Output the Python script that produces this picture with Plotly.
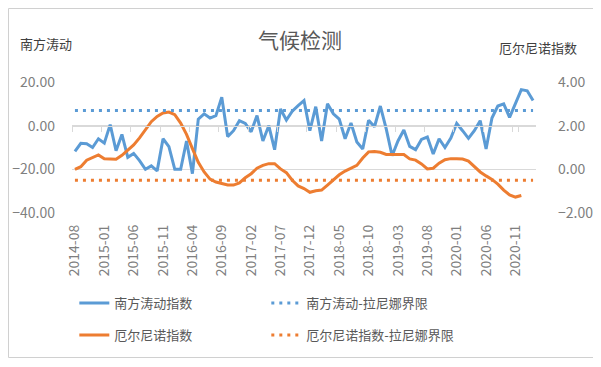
import pandas as pd
import plotly.graph_objects as go

# ---- data ----
months = [p.strftime("%Y-%m") for p in pd.period_range("2014-08", periods=79, freq="M")]

soi_index = [
    -11.8, -8.1, -8.3, -10.0, -6.0, -8.0, 0.5, -11.5, -4.0, -14.5,
    -12.7, -16.0, -20.0, -18.4, -20.7, -6.0, -9.6, -20.0, -20.0, -7.0,
    -22.0, 3.0, 5.4, 3.5, 4.6, 13.0, -5.0, -2.3, 2.3, 1.0,
    -2.8, 4.6, -7.0, 0.0, -11.0, 7.6, 2.6, 6.6, 9.2, 11.5,
    -2.3, 8.7, -7.0, 10.0, 5.4, 3.0, -6.0, 1.2, -7.5, -10.7,
    2.5, -0.5, 9.0, -1.5, -13.8, -7.0, -2.0, -9.5, -11.0, -6.3,
    -5.2, -13.0, -6.0, -10.0, -5.7, 1.0, -2.3, -5.8, -2.3, 2.3,
    -10.7, 3.5, 9.0, 10.0, 3.8, 10.5, 16.5, 16.0, 11.5,
]

oni_index = [
    0.00, 0.12, 0.42, 0.53, 0.66, 0.48, 0.46, 0.46, 0.64, 0.86,
    1.12, 1.44, 1.80, 2.18, 2.42, 2.58, 2.62, 2.50, 2.12, 1.60,
    0.95, 0.32, -0.12, -0.45, -0.58, -0.66, -0.72, -0.72, -0.62, -0.38,
    -0.20, 0.05, 0.18, 0.26, 0.26, 0.02, -0.15, -0.50, -0.76, -0.88,
    -1.05, -0.98, -0.95, -0.72, -0.50, -0.25, -0.08, 0.05, 0.18, 0.52,
    0.80, 0.82, 0.78, 0.68, 0.68, 0.68, 0.68, 0.48, 0.42, 0.25,
    0.02, 0.05, 0.28, 0.44, 0.49, 0.49, 0.47, 0.38, 0.12, -0.12,
    -0.30, -0.46, -0.68, -0.95, -1.17, -1.27, -1.20, None, None,
]

soi_lanina_limit = 7
oni_lanina_limit = -0.5

tick_labels = months[::5]

BLUE = "#5B9BD5"
ORANGE = "#ED7D31"
GRID = "#D9D9D9"
TXT = "#7F7F7F"
FONT = "Noto Sans CJK SC"

fig = go.Figure()

fig.add_trace(go.Scatter(
    x=months, y=soi_index, name="南方涛动指数", mode="lines",
    line=dict(color=BLUE, width=3), legend="legend", xaxis="x", yaxis="y"))
fig.add_trace(go.Scatter(
    x=months, y=[soi_lanina_limit] * len(months), name="南方涛动-拉尼娜界限", mode="lines",
    line=dict(color=BLUE, width=3, dash="3px,5px"), legend="legend", xaxis="x2", yaxis="y"))
fig.add_trace(go.Scatter(
    x=months, y=oni_index, name="厄尔尼诺指数", mode="lines",
    line=dict(color=ORANGE, width=3), legend="legend2", xaxis="x", yaxis="y2"))
fig.add_trace(go.Scatter(
    x=months, y=[oni_lanina_limit] * len(months), name="厄尔尼诺指数-拉尼娜界限", mode="lines",
    line=dict(color=ORANGE, width=3, dash="3px,5px"), legend="legend2", xaxis="x", yaxis="y2"))

xrange = [-0.5, len(months) - 0.5]

legend_common = dict(
    orientation="h", entrywidth=147, entrywidthmode="pixels",
    font=dict(family=FONT, size=13, color="#595959"),
    bgcolor="rgba(0,0,0,0)", xanchor="left", yanchor="middle",
    itemclick=False, itemdoubleclick=False,
)

# the page body adds an 8px offset, so the figure is 8px smaller and margins shifted
fig.update_layout(
    width=593, height=359,
    margin=dict(l=64, r=65, t=74, b=154, autoexpand=False),
    paper_bgcolor="white", plot_bgcolor="white",
    font=dict(family=FONT, color=TXT),
    xaxis=dict(type="category", categoryorder="array", categoryarray=months,
               range=xrange, tickmode="array", tickvals=tick_labels, ticktext=tick_labels,
               tickangle=-90, showgrid=False, showline=False, ticks="", zeroline=False,
               tickfont=dict(size=14, color=TXT), ticklabelstandoff=8),
    xaxis2=dict(type="category", categoryorder="array", categoryarray=months,
                range=xrange, overlaying="x", anchor="free", position=40 / 60,
                showline=True, linecolor=GRID, linewidth=1,
                ticks="outside", ticklen=5, tickcolor=GRID, tickwidth=1,
                tickson="boundaries", tickmode="array", tickvals=tick_labels,
                showticklabels=False, showgrid=False, zeroline=False),
    yaxis=dict(range=[-40, 20], dtick=20, tickformat=".2f",
               showgrid=True, gridcolor=GRID, gridwidth=1, zeroline=False,
               showline=False, ticks="", tickfont=dict(size=14, color=TXT),
               ticklabelstandoff=16),
    yaxis2=dict(range=[-2, 4], dtick=2, tickformat=".2f", overlaying="y", side="right",
                showgrid=False, zeroline=False, showline=False, ticks="",
                tickfont=dict(size=14, color=TXT), ticklabelstandoff=21),
    legend=dict(x=0.005, y=(213 - 303) / 131, **legend_common),
    legend2=dict(x=0.005, y=(213 - 335) / 131, **legend_common),
    annotations=[
        dict(text="气候检测", xref="paper", yref="paper", x=(300 - 72) / 464, y=(213 - 39) / 131,
             xanchor="center", yanchor="middle", showarrow=False,
             font=dict(family=FONT, size=21, color="#595959")),
        dict(text="南方涛动", xref="paper", yref="paper", x=(18 - 72) / 464, y=(213 - 44) / 131,
             xanchor="left", yanchor="middle", showarrow=False,
             font=dict(family=FONT, size=13, color="#404040")),
        dict(text="厄尔尼诺指数", xref="paper", yref="paper", x=(579 - 72) / 464, y=(213 - 47) / 131,
             xanchor="right", yanchor="middle", showarrow=False,
             font=dict(family=FONT, size=13, color="#404040")),
    ],
    shapes=[
        dict(type="rect", xref="paper", yref="paper",
             x0=(8.5 - 72) / 464, x1=(593.5 - 72) / 464, y0=(213 - 357.5) / 131, y1=(213 - 8.5) / 131,
             line=dict(color="#D0D0D0", width=1), fillcolor="rgba(0,0,0,0)", layer="below"),
    ],
    showlegend=True,
)

fig.write_html("out.html")
